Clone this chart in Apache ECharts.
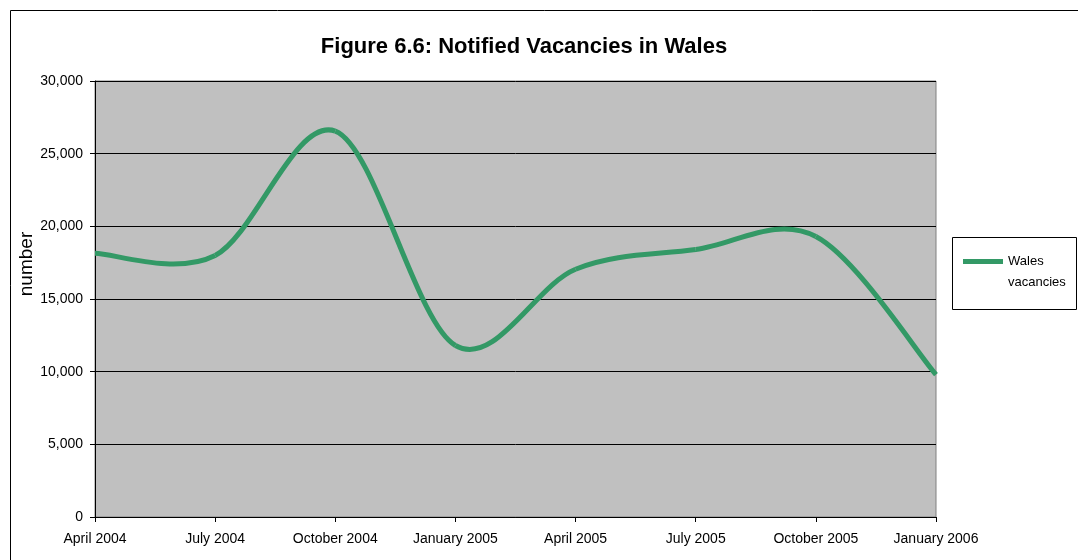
<!DOCTYPE html>
<html>
<head>
<meta charset="utf-8">
<script src="https://cdn.jsdelivr.net/npm/echarts@6/dist/echarts.min.js"></script>
<style>
  html, body { margin: 0; padding: 0; background: #fff; }
  #container { width: 1078px; height: 560px; }
</style>
</head>
<body>
<div id="container"></div>
<script>
var quarters  = ['April 2004', 'July 2004', 'October 2004', 'January 2005',
                 'April 2005', 'July 2005', 'October 2005', 'January 2006'];
var vacancies = [18150, 18000, 26550, 11800, 17050, 18400, 19300, 9800];
var yTicks    = [0, 5000, 10000, 15000, 20000, 25000, 30000];

var dom     = document.getElementById('container');
var myChart = echarts.init(dom);
var font    = '"Liberation Sans", Arial, sans-serif';
var green   = '#339966';

// Excel-like smoothed line: one bezier per pair of points,
// control points from neighbouring points (catmull-rom, 1/6)
function renderSegment(params, api) {
    var i = params.dataIndex;
    var n = vacancies.length;
    if (i >= n - 1) {
        return;
    }
    function pt(k) {
        k = Math.max(0, Math.min(n - 1, k));
        return api.coord([k, vacancies[k]]);
    }
    var p0 = pt(i - 1), p1 = pt(i), p2 = pt(i + 1), p3 = pt(i + 2);
    return {
        type: 'bezierCurve',
        shape: {
            x1: p1[0], y1: p1[1],
            x2: p2[0], y2: p2[1],
            cpx1: p1[0] + (p2[0] - p0[0]) / 6,
            cpy1: p1[1] + (p2[1] - p0[1]) / 6,
            cpx2: p2[0] - (p3[0] - p1[0]) / 6,
            cpy2: p2[1] - (p3[1] - p1[1]) / 6
        },
        style: { stroke: green, lineWidth: 5, fill: null, lineCap: 'butt' }
    };
}

var option = {
    backgroundColor: '#fff',
    animation: false,
    title: {
        text: 'Figure 6.6: Notified Vacancies in Wales',
        left: 519,
        top: 31,
        textAlign: 'center',
        textStyle: { fontFamily: font, fontSize: 22, fontWeight: 'bold', color: '#000' }
    },
    // outer frame + legend frame
    graphic: [
        {
            type: 'rect',
            shape: { x: 10.5, y: 10.5, width: 1100, height: 600 },
            style: { fill: 'none', stroke: '#000', lineWidth: 1 },
            silent: true
        },
        {
            type: 'rect',
            shape: { x: 952.5, y: 237.5, width: 124, height: 72 },
            style: { fill: '#fff', stroke: '#000', lineWidth: 1 },
            silent: true,
            z: 1
        }
    ],
    legend: {
        left: 963,
        top: 230,
        padding: 0,
        z: 5,
        icon: 'rect',
        itemWidth: 40,
        itemHeight: 5,
        itemGap: 0,
        data: [{ name: 'Wales vacancies', itemStyle: { color: green } }],
        formatter: function () { return '\nWales\nvacancies'; },
        textStyle: { fontFamily: font, fontSize: 13, color: '#000', lineHeight: 21 }
    },
    grid: {
        left: 95,
        top: 81,
        right: 142,
        bottom: 43,
        show: true,
        backgroundColor: '#C0C0C0',
        borderColor: '#808080',
        borderWidth: 1
    },
    xAxis: {
        type: 'category',
        data: quarters,
        boundaryGap: false,
        axisLine: { lineStyle: { color: '#000', width: 1 } },
        axisTick: { show: true, length: 5, lineStyle: { color: '#000' } },
        axisLabel: { fontFamily: font, fontSize: 14, color: '#000', margin: 15, interval: 0 },
        splitLine: { show: false }
    },
    yAxis: {
        type: 'value',
        min: yTicks[0],
        max: yTicks[yTicks.length - 1],
        interval: 5000,
        name: 'number',
        nameLocation: 'middle',
        nameRotate: 90,
        nameGap: 59,
        nameMoveOverlap: false,
        nameTextStyle: { fontFamily: font, fontSize: 19, color: '#000', padding: [0, 0, 0, 70] },
        axisLine: { show: true, lineStyle: { color: '#000', width: 1 } },
        axisTick: { show: true, length: 5, lineStyle: { color: '#000' } },
        axisLabel: {
            fontFamily: font, fontSize: 14, color: '#000', margin: 12,
            formatter: function (v) { return v.toLocaleString('en-US'); }
        },
        splitLine: { show: true, lineStyle: { color: '#000', width: 1 } }
    },
    series: [
        {
            name: 'Wales vacancies',
            type: 'custom',
            renderItem: renderSegment,
            itemStyle: { color: green },
            data: vacancies.map(function (v, i) { return [i, v]; }),
            z: 3
        }
    ]
};

myChart.setOption(option);
</script>
</body>
</html>
